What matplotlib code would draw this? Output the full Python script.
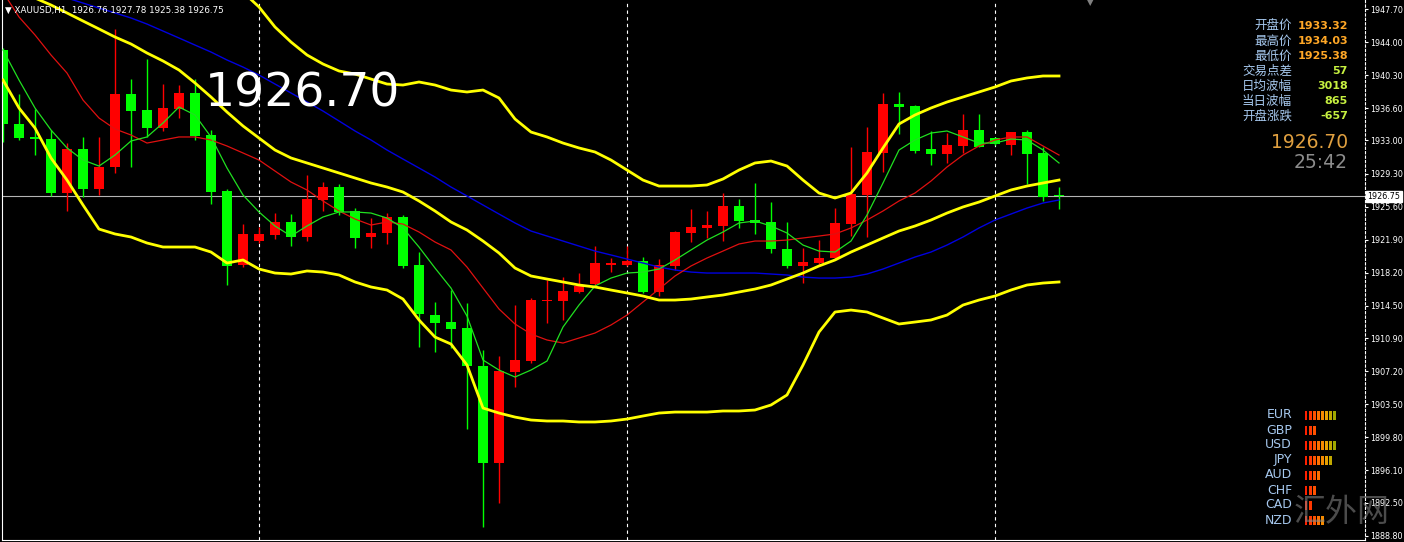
import matplotlib.pyplot as plt
import numpy as np

# ---- candle data (XAUUSD H1), oldest first ----
opens = [1943.11, 1934.84, 1933.38, 1933.16, 1927.12, 1932.04, 1927.57, 1930.03, 1938.19, 1936.40,
         1934.39, 1936.51, 1938.30, 1933.61, 1927.34, 1919.06, 1921.75, 1922.42, 1923.87, 1922.20,
         1926.34, 1927.79, 1925.10, 1922.20, 1922.64, 1924.43, 1919.06, 1913.47, 1912.69, 1912.02,
         1907.77, 1896.92, 1907.10, 1908.33, 1915.04, 1915.04, 1916.04, 1916.94, 1919.06, 1919.06,
         1919.51, 1916.04, 1918.95, 1922.64, 1923.20, 1923.43, 1925.66, 1924.10, 1923.87, 1920.85,
         1918.95, 1919.29, 1919.85, 1923.65, 1926.89, 1931.59, 1937.07, 1936.85, 1932.04, 1931.48,
         1932.38, 1934.16, 1933.27, 1932.49, 1933.94, 1931.59, 1926.76]
highs = [1943.34, 1938.19, 1936.51, 1934.16, 1932.71, 1933.38, 1933.38, 1945.46, 1939.87, 1942.11,
         1939.31, 1939.20, 1939.87, 1934.16, 1927.57, 1923.65, 1923.31, 1924.88, 1924.77, 1929.13,
         1928.35, 1928.12, 1925.44, 1924.32, 1924.88, 1924.66, 1920.52, 1914.93, 1916.27, 1914.81,
         1909.56, 1908.88, 1914.59, 1915.37, 1917.39, 1917.72, 1918.17, 1921.19, 1919.85, 1921.19,
         1919.96, 1919.74, 1922.87, 1925.33, 1925.10, 1927.12, 1926.45, 1928.24, 1926.11, 1923.87,
         1920.97, 1921.86, 1925.44, 1932.26, 1934.50, 1938.30, 1938.42, 1936.96, 1934.05, 1933.83,
         1935.95, 1935.95, 1933.38, 1933.94, 1934.16, 1932.26, 1927.78]
lows = [1932.82, 1933.05, 1931.37, 1926.78, 1925.10, 1926.67, 1926.89, 1929.35, 1930.03, 1933.38,
        1934.05, 1935.51, 1933.05, 1925.89, 1916.83, 1918.84, 1921.52, 1921.97, 1921.19, 1921.75,
        1925.10, 1924.66, 1920.97, 1920.97, 1921.41, 1918.73, 1909.89, 1909.33, 1909.78, 1900.72,
        1889.76, 1892.44, 1905.42, 1908.10, 1912.58, 1912.91, 1915.93, 1916.60, 1918.28, 1918.95,
        1915.93, 1915.60, 1918.51, 1921.64, 1922.08, 1921.75, 1923.20, 1922.53, 1920.41, 1918.73,
        1917.05, 1919.18, 1919.74, 1922.31, 1922.20, 1929.47, 1933.72, 1931.59, 1930.25, 1930.47,
        1931.59, 1932.26, 1932.49, 1931.37, 1928.12, 1926.22, 1925.38]
closes = [1934.84, 1933.27, 1933.16, 1927.12, 1932.04, 1927.57, 1930.03, 1938.19, 1936.29, 1934.39,
          1936.63, 1938.30, 1933.49, 1927.23, 1918.95, 1922.53, 1922.53, 1923.87, 1922.20, 1926.45,
          1927.79, 1924.99, 1922.08, 1922.64, 1924.43, 1918.95, 1913.58, 1912.58, 1911.90, 1907.77,
          1896.92, 1907.21, 1908.44, 1915.15, 1915.15, 1916.16, 1916.72, 1919.29, 1919.29, 1919.51,
          1916.04, 1919.06, 1922.76, 1923.31, 1923.54, 1925.66, 1923.99, 1923.76, 1920.85, 1918.95,
          1919.40, 1919.85, 1923.76, 1927.01, 1931.70, 1937.07, 1936.74, 1931.82, 1931.48, 1932.49,
          1934.16, 1932.26, 1932.60, 1933.94, 1931.48, 1926.67, 1926.75]

# ---- indicator lines ----
ma_fast = [1943.12, 1939.76, 1936.63, 1934.17, 1932.16, 1930.81, 1930.14, 1931.37, 1932.94, 1933.39,
           1934.95, 1936.74, 1935.85, 1933.39, 1929.92, 1926.90, 1925.00, 1923.43, 1922.31, 1923.43,
           1924.44, 1925.00, 1925.00, 1924.88, 1924.32, 1923.21, 1921.08, 1918.73, 1916.49, 1913.36,
           1908.44, 1907.32, 1906.54, 1907.32, 1908.33, 1912.13, 1914.59, 1916.72, 1917.61, 1918.17,
           1918.28, 1918.62, 1919.63, 1920.75, 1921.86, 1922.76, 1923.77, 1923.99, 1923.43, 1922.65,
           1921.30, 1920.63, 1920.52, 1921.75, 1924.66, 1928.24, 1931.93, 1933.05, 1933.83, 1934.06,
           1933.39, 1932.71, 1932.71, 1933.16, 1933.05, 1931.93, 1930.48]
ma_mid = [1949.60, 1946.81, 1944.80, 1942.56, 1940.54, 1937.52, 1935.51, 1934.28, 1933.61, 1932.71,
          1933.05, 1933.39, 1933.39, 1933.05, 1932.38, 1931.60, 1930.81, 1929.58, 1928.35, 1927.46,
          1926.23, 1925.11, 1924.21, 1923.54, 1923.88, 1923.65, 1922.76, 1921.64, 1920.75, 1918.84,
          1916.49, 1914.15, 1912.47, 1911.35, 1910.68, 1910.34, 1910.90, 1911.46, 1912.36, 1913.47,
          1914.93, 1916.38, 1917.84, 1918.96, 1919.85, 1920.63, 1921.42, 1921.75, 1921.75, 1921.86,
          1922.09, 1922.31, 1922.54, 1923.21, 1924.10, 1925.11, 1926.23, 1927.12, 1928.46, 1930.03,
          1931.37, 1932.38, 1933.05, 1933.39, 1933.39, 1932.38, 1931.37]
ma_slow = [1951.17, 1950.61, 1950.05, 1949.49, 1948.93, 1948.37, 1947.81, 1947.26, 1946.70, 1946.02,
           1945.24, 1944.46, 1943.67, 1942.89, 1942.00, 1941.21, 1940.32, 1939.31, 1938.31, 1937.30,
           1936.29, 1935.18, 1934.06, 1933.05, 1931.93, 1930.92, 1929.92, 1928.91, 1927.79, 1926.79,
           1925.78, 1924.77, 1923.77, 1922.87, 1922.31, 1921.75, 1921.19, 1920.63, 1920.19, 1919.74,
           1919.29, 1918.84, 1918.51, 1918.28, 1918.17, 1918.17, 1918.17, 1918.17, 1918.06, 1917.95,
           1917.72, 1917.61, 1917.61, 1917.72, 1918.06, 1918.62, 1919.29, 1919.96, 1920.52, 1921.30,
           1922.20, 1923.21, 1924.10, 1924.77, 1925.44, 1926.00, 1926.34]
bb_upper = [1961.69, 1963.03, 1963.48, 1965.26, 1965.94, 1966.94, 1967.84, 1966.61, 1965.38, 1964.03,
            1962.69, 1960.68, 1957.77, 1955.20, 1953.07, 1949.60, 1947.93, 1945.69, 1944.01, 1942.56,
            1941.55, 1940.77, 1940.43, 1939.87, 1939.31, 1939.20, 1939.54, 1939.20, 1938.64, 1938.42,
            1938.64, 1937.75, 1935.40, 1933.94, 1933.39, 1932.71, 1932.16, 1931.71, 1930.81, 1929.69,
            1928.57, 1927.90, 1927.90, 1927.90, 1928.02, 1928.69, 1929.69, 1930.48, 1930.70, 1930.14,
            1928.57, 1927.12, 1926.56, 1927.12, 1929.36, 1932.16, 1934.84, 1935.85, 1936.63, 1937.30,
            1937.86, 1938.42, 1938.98, 1939.65, 1939.99, 1940.21, 1940.21]
bb_middle = [1950.72, 1949.83, 1948.93, 1948.15, 1947.26, 1946.36, 1945.47, 1944.57, 1943.79, 1942.78,
             1941.89, 1940.88, 1939.43, 1937.86, 1936.18, 1934.62, 1933.27, 1931.93, 1931.04, 1930.48,
             1929.92, 1929.36, 1928.80, 1928.24, 1927.79, 1927.23, 1926.23, 1925.11, 1923.88, 1922.98,
             1921.75, 1920.41, 1918.73, 1917.84, 1917.50, 1917.17, 1916.83, 1916.61, 1916.27, 1915.94,
             1915.60, 1915.15, 1915.15, 1915.26, 1915.49, 1915.71, 1916.05, 1916.38, 1916.83, 1917.50,
             1918.17, 1918.96, 1919.63, 1920.52, 1921.30, 1922.09, 1922.87, 1923.43, 1924.10, 1924.88,
             1925.56, 1926.11, 1926.79, 1927.46, 1927.90, 1928.24, 1928.57]
bb_lower = [1939.76, 1936.63, 1934.39, 1931.04, 1928.57, 1925.78, 1923.09, 1922.54, 1922.20, 1921.53,
            1921.08, 1921.08, 1921.08, 1920.52, 1919.29, 1919.63, 1918.62, 1918.17, 1918.06, 1918.40,
            1918.28, 1917.95, 1917.17, 1916.61, 1916.27, 1915.26, 1912.92, 1911.01, 1910.23, 1907.88,
            1903.07, 1902.51, 1902.06, 1901.73, 1901.62, 1901.62, 1901.51, 1901.51, 1901.62, 1901.84,
            1902.18, 1902.51, 1902.62, 1902.62, 1902.62, 1902.74, 1902.74, 1902.85, 1903.41, 1904.53,
            1907.88, 1911.57, 1913.81, 1914.03, 1913.81, 1913.14, 1912.47, 1912.69, 1912.92, 1913.47,
            1914.59, 1915.15, 1915.60, 1916.27, 1916.83, 1917.05, 1917.17]

separators = [16, 39, 62]
bid = 1926.75
price_ticks = [1947.70, 1944.00, 1940.30, 1936.60, 1933.00, 1929.30, 1925.60, 1921.90, 1918.20,
               1914.50, 1910.90, 1907.20, 1903.50, 1899.80, 1896.10, 1892.50, 1888.80]

info_labels = ["开盘价", "最高价", "最低价", "交易点差", "日均波幅", "当日波幅", "开盘涨跌"]
info_values = ["1933.32", "1934.03", "1925.38", "57", "3018", "865", "-657"]
currencies = ["EUR", "GBP", "USD", "JPY", "AUD", "CHF", "CAD", "NZD"]
strength = [8, 3, 8, 7, 4, 3, 2, 5]

cjk = ["Noto Sans CJK SC", "DejaVu Sans"]
W, H = 1404, 542

fig = plt.figure(figsize=(W / 100, H / 100), dpi=100, facecolor="black")
ax = fig.add_axes([2 / W, 2 / H, 1363 / W, 540 / H], facecolor="black")

o = np.array(opens)
c = np.array(closes)
x = np.arange(len(o))
up = c >= o
col = np.where(up, "#ff0000", "#00ff00")

ax.vlines(x, lows, highs, colors=col, lw=1, zorder=2)
body = np.maximum(np.abs(c - o), 0.12)
ax.bar(x, body, bottom=np.minimum(o, c), width=0.68, color=col, lw=0, zorder=2)

ax.plot(x, ma_slow, color="#0000e0", lw=1, zorder=3)
ax.plot(x, ma_mid, color="#e01010", lw=0.9, zorder=3)
ax.plot(x, ma_fast, color="#20e020", lw=0.9, zorder=3)
for band in (bb_upper, bb_middle, bb_lower):
    ax.plot(x, band, color="#ffff00", lw=2.0, zorder=4, solid_joinstyle="round")

for s in separators:
    ax.axvline(s, color="white", lw=0.8, ls=(0, (3, 3)), zorder=1)
ax.axhline(bid, color="#b4b4b4", lw=0.8, zorder=1)

ax.set_xlim(-0.0625, 85.125)
ax.set_ylim(1888.31, 1948.71)
ax.set_xticks([])
ax.yaxis.tick_right()
ax.set_yticks(price_ticks)
ax.set_yticklabels([f"{t:.2f}" for t in price_ticks])
ax.tick_params(axis="y", colors="white", labelcolor="white", labelsize=5.8, length=2.5, width=0.8, pad=1.5)
for side in ("left", "bottom"):
    ax.spines[side].set_color("white")
ax.spines["top"].set_visible(False)
ax.spines["right"].set_color("white")
ax.spines["right"].set_linestyle((0, (2, 2)))

ax.annotate(f"{bid:.2f}", xy=(1.0018, bid), xycoords=("axes fraction", "data"),
            ha="left", va="center", fontsize=5.8, color="black",
            bbox=dict(boxstyle="square,pad=0.15", fc="white", ec="white"))

# header and big price
fig.text(5 / W, 1 - 10 / H, "▼ XAUUSD,H1  1926.76 1927.78 1925.38 1926.75",
         color="white", fontsize=6.3, va="center", ha="left")
fig.text(302 / W, 1 - 94 / H, "1926.70", color="white", fontsize=34, ha="center", va="center")
fig.text(1090 / W, 1 - 3 / H, "▼", color="#808080", fontsize=6, ha="center", va="center")

# info panel
for k, (lab, val) in enumerate(zip(info_labels, info_values)):
    yy = 1 - (26 + 15 * k) / H
    fig.text(1292 / W, yy, lab, color="#a6c8ee", fontsize=9, family=cjk, ha="right", va="center")
    vcol = "#ffa726" if k < 3 else "#c6f040"
    fig.text(1348 / W, yy, val, color=vcol, fontsize=8, weight="bold", ha="right", va="center")
fig.text(1348 / W, 1 - 142 / H, "1926.70", color="#e0a040", fontsize=13.5, ha="right", va="center")
fig.text(1348 / W, 1 - 162 / H, "25:42", color="#8c8c8c", fontsize=13.5, ha="right", va="center")

# currency strength panel
seg_colors = ["#ff2000", "#ff3800", "#ff5200", "#ff7000", "#f58a00", "#e8a000", "#c0a800", "#a0a800"]
sax = fig.add_axes([1304 / W, 1 - 528 / H, 40 / W, 120 / H])
sax.set_axis_off()
for r, n in enumerate(strength):
    sax.bar(np.arange(n), 0.55, bottom=r - 0.27, width=0.7, color=seg_colors[:n], lw=0)
    fig.text(1292 / W, 1 - (415 + 15 * r) / H, currencies[r], color="#a6c8ee", fontsize=9,
             ha="right", va="center")
sax.set_xlim(-0.5, 9.3)
sax.set_ylim(len(strength) - 0.5, -0.5)

fig.text(1342 / W, 1 - 512 / H, "汇外网", color="#8a8a8a", alpha=0.55, fontsize=23,
         family=cjk, ha="center", va="center")

fig.savefig("out.png", dpi=100, facecolor="black")
